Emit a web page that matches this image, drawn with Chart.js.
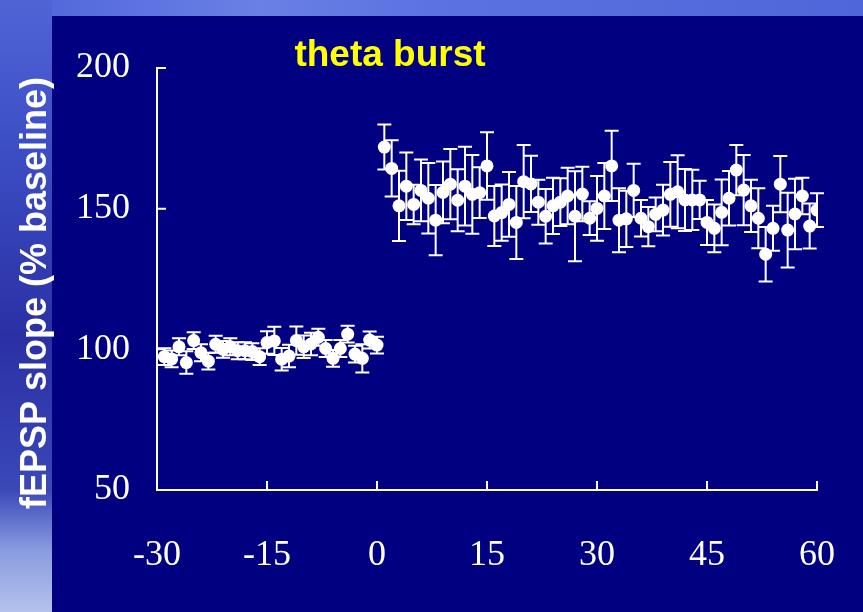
<!DOCTYPE html>
<html><head><meta charset="utf-8">
<script src="https://cdn.jsdelivr.net/npm/chart.js@4.4.0/dist/chart.umd.min.js"></script>
<style>html,body{margin:0;padding:0;background:#000080;overflow:hidden}</style>
</head><body><canvas id="c" width="863" height="612"></canvas>
<script>
// ---- data ----
const baseTime  = [-29,-28,-27,-26,-25,-24,-23,-22,-21,-20,-19,-18,-17,-16,-15,-14,-13,-12,-11,-10,-9,-8,-7,-6,-5,-4,-3,-2,-1,0];
const baseSlope = [97.4,96.6,100.9,95.3,103.1,98.8,95.8,101.8,100.0,100.9,99.5,99.5,99.2,97.4,102.4,103.0,96.5,97.6,103.1,100.9,101.9,104.3,100.3,96.8,100.3,105.4,98.3,96.8,103.3,101.5];
const baseSem   = [3,3,3,4,3,3,3,3,3,3,3,3,3,3,4,5,4,4,5,4,4,3,3,3,3,3,3,5,3,3];
const postTime  = [1,2,3,4,5,6,7,8,9,10,11,12,13,14,15,16,17,18,19,20,21,22,23,24,25,26,27,28,29,30,31,32,33,34,35,36,37,38,39,40,41,42,43,44,45,46,47,48,49,50,51,52,53,54,55,56,57,58,59,60];
const postSlope = [171.9,164.3,151.0,158.0,151.5,156.5,153.7,145.9,155.8,158.7,153.0,158.0,155.1,155.7,165.2,147.4,148.6,151.5,145.1,159.6,158.8,152.3,147.3,151.0,152.3,154.5,147.3,155.2,146.6,150.1,154.5,165.2,145.9,146.4,156.5,146.6,143.6,148.0,149.5,155.1,156.0,153.1,153.1,153.1,145.1,143.0,148.7,153.7,163.7,156.6,151.0,146.6,133.8,143.0,158.7,142.4,148.1,154.5,143.8,149.5];
const postSem   = [8,10,12.5,12,7,11,12.5,12.5,11,12.5,11,14,14,9,12,10.7,10,11.5,13,13,10,8,9.7,10,8.5,10,16,9.7,6,11.5,11.7,12.5,11.4,10,9.5,6.5,7,6,9,11.5,13,11,10.7,6.8,8,8.5,11.7,9.7,8.9,12.5,9.3,10.7,9.7,8,10,13.3,12.5,6.5,8,6];
const xTicks = [-30,-15,0,15,30,45,60];
const yTicks = [50,100,150,200];
const titleText = 'theta burst';
const yTitleText = 'fEPSP slope (% baseline)';

const semByDataset = [baseSem, postSem];

const bgPlugin = {
  id:'bg',
  beforeDraw(chart){
    const ctx = chart.ctx, W = chart.width, H = chart.height;
    ctx.save();
    let g = ctx.createLinearGradient(0,0,W,0);
    g.addColorStop(0,'#4e63d8'); g.addColorStop(0.3,'#6a80e6'); g.addColorStop(0.5,'#5b72e0'); g.addColorStop(1,'#4f66da');
    ctx.fillStyle = g; ctx.fillRect(0,0,W,16);
    g = ctx.createLinearGradient(0,0,0,H);
    g.addColorStop(0,'#5064d6'); g.addColorStop(0.2,'#3f52c8'); g.addColorStop(0.55,'#2a30a4'); g.addColorStop(0.8,'#3a48b8'); g.addColorStop(0.9,'#8a9ce0'); g.addColorStop(1,'#b4c2ec');
    ctx.fillStyle = g; ctx.fillRect(0,0,52,H);
    ctx.fillStyle = '#000080';
    ctx.fillRect(52,16,W-52,H-16);
    ctx.restore();
  }
};

const errPlugin = {
  id:'err',
  beforeDatasetsDraw(chart){
    const ctx = chart.ctx, xs = chart.scales.x, ys = chart.scales.y;
    ctx.save();
    ctx.strokeStyle = '#ffffff'; ctx.lineWidth = 2;
    chart.data.datasets.forEach((ds,di)=>{
      const sem = semByDataset[di];
      ds.data.forEach((p,i)=>{
        const x = xs.getPixelForValue(p.x);
        const yt = ys.getPixelForValue(p.y + sem[i]);
        const yb = ys.getPixelForValue(p.y - sem[i]);
        ctx.beginPath();
        ctx.moveTo(x,yt); ctx.lineTo(x,yb);
        ctx.moveTo(x-7,yt); ctx.lineTo(x+7,yt);
        ctx.moveTo(x-7,yb); ctx.lineTo(x+7,yb);
        ctx.stroke();
      });
    });
    ctx.restore();
  }
};

const textPlugin = {
  id:'txt',
  afterDraw(chart){
    const ctx = chart.ctx, xs = chart.scales.x, ys = chart.scales.y;
    ctx.save();
    ctx.strokeStyle = '#ffffff'; ctx.lineWidth = 2;
    ctx.beginPath();
    xTicks.forEach(v=>{ const x = xs.getPixelForValue(v); ctx.moveTo(x, ys.bottom); ctx.lineTo(x, ys.bottom-9); });
    yTicks.forEach(v=>{ const y = ys.getPixelForValue(v); ctx.moveTo(xs.left, y); ctx.lineTo(xs.left+9, y); });
    ctx.stroke();
    ctx.fillStyle = '#ffff00';
    ctx.font = 'bold 37px "Liberation Sans", Arial, sans-serif';
    ctx.textAlign = 'center'; ctx.textBaseline = 'alphabetic';
    ctx.fillText(titleText, 390, 66);
    ctx.fillStyle = '#ffffff';
    ctx.font = 'bold 36px "Liberation Sans", Arial, sans-serif';
    ctx.translate(46, 293);
    ctx.rotate(-Math.PI/2);
    ctx.textAlign = 'center'; ctx.textBaseline = 'alphabetic';
    ctx.fillText(yTitleText, 0, 0);
    ctx.restore();
  }
};

const pointStyle = {showLine:false, pointRadius:6.5, pointHoverRadius:6.5, pointBackgroundColor:'#ffffff', pointBorderColor:'#ffffff', pointBorderWidth:0, backgroundColor:'#ffffff', borderColor:'#ffffff'};

new Chart(document.getElementById('c'), {
  type:'scatter',
  data:{datasets:[
    Object.assign({label:'baseline', data: baseTime.map((t,i)=>({x:t, y:baseSlope[i]}))}, pointStyle),
    Object.assign({label:'theta burst', data: postTime.map((t,i)=>({x:t, y:postSlope[i]}))}, pointStyle)
  ]},
  options:{
    responsive:false, animation:false, devicePixelRatio:1,
    layout:{padding:{left:0,right:46,top:68,bottom:0}},
    plugins:{legend:{display:false}, tooltip:{enabled:false}},
    scales:{
      x:{type:'linear', min:-30, max:60,
        afterBuildTicks(s){ s.ticks = xTicks.map(v=>({value:v})); },
        afterFit(s){ s.height = 122; s.paddingLeft = 0; s.paddingRight = 0; },
        grid:{display:false, drawTicks:false},
        border:{display:true, color:'#ffffff', width:2},
        ticks:{color:'#ffffff', padding:44, maxRotation:0, font:{family:'"Liberation Serif", "Times New Roman", serif', size:36}}
      },
      y:{type:'linear', min:50, max:200,
        afterBuildTicks(s){ s.ticks = yTicks.map(v=>({value:v})); },
        afterFit(s){ s.width = 157; s.paddingTop = 0; s.paddingBottom = 0; },
        grid:{display:false, drawTicks:false},
        border:{display:true, color:'#ffffff', width:2},
        ticks:{color:'#ffffff', padding:27, font:{family:'"Liberation Serif", "Times New Roman", serif', size:36}}
      }
    }
  },
  plugins:[bgPlugin, errPlugin, textPlugin]
});
</script>
</body></html>
